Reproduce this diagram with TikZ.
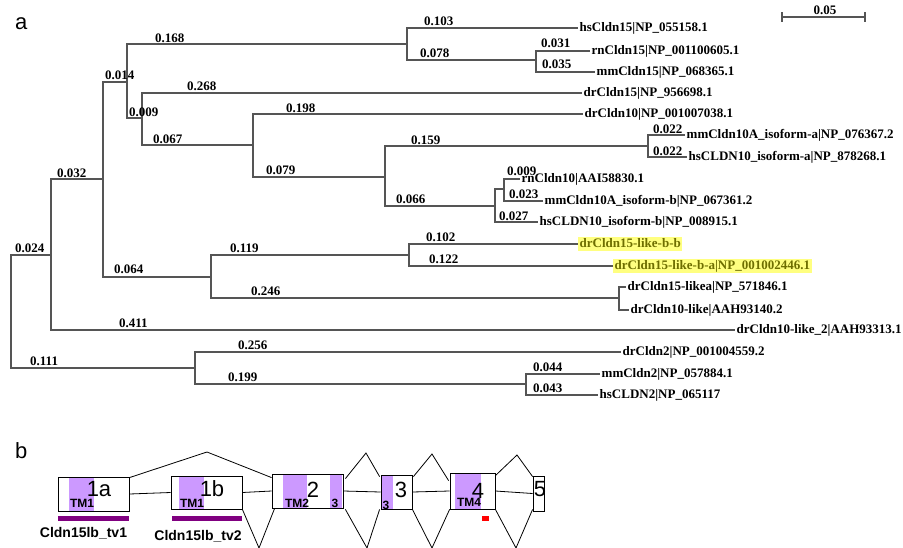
\documentclass[tikz,border=0pt]{standalone}
\usepackage{fontspec}
\setmainfont{Liberation Serif}
\setsansfont{Liberation Sans}
\usetikzlibrary{calc}
\definecolor{treeline}{HTML}{555555}
\definecolor{hl}{HTML}{FFFF80}
\definecolor{hltext}{HTML}{6E6E00}
\definecolor{tmfill}{HTML}{CC99FF}
\definecolor{barcol}{HTML}{800080}
\begin{document}
\begin{tikzpicture}[x=1pt,y=-1pt,
 edge/.style={draw=treeline,line width=1.1pt},
 leaf/.style={anchor=west,inner xsep=1.5pt,inner ysep=1pt,font=\fontsize{13}{15}\selectfont\bfseries,text height=9pt,text depth=3pt},
 hilite/.style={fill=hl,text=hltext},
 blen/.style={anchor=west,inner sep=0pt,font=\fontsize{13}{15}\selectfont\bfseries},
 exon/.style={draw,line width=0.8pt,inner sep=0pt},
 exnum/.style={font=\sffamily\fontsize{22}{24}\selectfont,inner sep=0pt},
 tmlab/.style={font=\sffamily\bfseries\fontsize{12}{14}\selectfont,inner sep=0pt},
 panel/.style={font=\sffamily\fontsize{22}{24}\selectfont,inner sep=0pt,anchor=base west},
 trlab/.style={font=\sffamily\bfseries\fontsize{14}{16}\selectfont,inner sep=0pt,anchor=base},
 intron/.style={draw,line width=0.8pt}]
\useasboundingbox (0,0) rectangle (903,547);
% ---------------- panel a ----------------
\node[panel] (pa) at (15,29) {a};
% internal nodes
\coordinate (R) at (11,311);
\coordinate (A) at (51,255);
\coordinate (B) at (103,179);
\coordinate (C) at (127,82);
\coordinate (E) at (407,44);
\coordinate (G) at (536,60);
\coordinate (F) at (142,118);
\coordinate (H) at (253,145);
\coordinate (I) at (385,177);
\coordinate (J) at (648,146);
\coordinate (K) at (495,206);
\coordinate (L) at (504,189);
\coordinate (D) at (211,277);
\coordinate (M) at (409,255);
\coordinate (N) at (619,298);
\coordinate (Q) at (195,368);
\coordinate (O) at (526,384);
% leaves
\node[leaf] (hs15) at (578,28) {hsCldn15|NP\_055158.1};
\node[leaf] (rn15) at (590,51) {rnCldn15|NP\_001100605.1};
\node[leaf] (mm15) at (595,72) {mmCldn15|NP\_068365.1};
\node[leaf] (dr15) at (582,93) {drCldn15|NP\_956698.1};
\node[leaf] (dr10) at (583,114) {drCldn10|NP\_001007038.1};
\node[leaf] (mm10a) at (685,135) {mmCldn10A\_isoform-a|NP\_076367.2};
\node[leaf] (hs10a) at (687,157) {hsCLDN10\_isoform-a|NP\_878268.1};
\node[leaf] (rn10) at (520,179) {rnCldn10|AAI58830.1};
\node[leaf] (mm10b) at (543,201) {mmCldn10A\_isoform-b|NP\_067361.2};
\node[leaf] (hs10b) at (538,222) {hsCLDN10\_isoform-b|NP\_008915.1};
\node[leaf,hilite] (lbb) at (578,244) {drCldn15-like-b-b};
\node[leaf,hilite] (lba) at (613,266) {drCldn15-like-b-a|NP\_001002446.1};
\node[leaf] (l15a) at (626,287) {drCldn15-likea|NP\_571846.1};
\node[leaf] (l10) at (629,310) {drCldn10-like|AAH93140.2};
\node[leaf] (l10b) at (735,330) {drCldn10-like\_2|AAH93313.1};
\node[leaf] (dr2) at (621,352) {drCldn2|NP\_001004559.2};
\node[leaf] (mm2) at (600,374) {mmCldn2|NP\_057884.1};
\node[leaf] (hs2) at (598,395) {hsCLDN2|NP\_065117};
% edges
\draw[edge] (R) |- (A);
\draw[edge] (R) |- (Q);
\draw[edge] (A) |- (B);
\draw[edge] (A) |- (l10b.west);
\draw[edge] (B) |- (C);
\draw[edge] (B) |- (D);
\draw[edge] (C) |- (E);
\draw[edge] (C) |- (F);
\draw[edge] (E) |- (hs15.west);
\draw[edge] (E) |- (G);
\draw[edge] (G) |- (rn15.west);
\draw[edge] (G) |- (mm15.west);
\draw[edge] (F) |- (dr15.west);
\draw[edge] (F) |- (H);
\draw[edge] (H) |- (dr10.west);
\draw[edge] (H) |- (I);
\draw[edge] (I) |- (J);
\draw[edge] (I) |- (K);
\draw[edge] (J) |- (mm10a.west);
\draw[edge] (J) |- (hs10a.west);
\draw[edge] (K) |- (L);
\draw[edge] (K) |- (hs10b.west);
\draw[edge] (L) |- (rn10.west);
\draw[edge] (L) |- (mm10b.west);
\draw[edge] (D) |- (M);
\draw[edge] (D) |- (N);
\draw[edge] (M) |- (lbb.west);
\draw[edge] (M) |- (lba.west);
\draw[edge] (N) |- (l15a.west);
\draw[edge] (N) |- (l10.west);
\draw[edge] (Q) |- (dr2.west);
\draw[edge] (Q) |- (O);
\draw[edge] (O) |- (mm2.west);
\draw[edge] (O) |- (hs2.west);
% branch lengths
\node[blen] (b01) at (155,38) {0.168};
\node[blen] (b02) at (105,75) {0.014};
\node[blen] (b03) at (187,86) {0.268};
\node[blen] (b04) at (129,112) {0.009};
\node[blen] (b05) at (153,139) {0.067};
\node[blen] (b06) at (286,108) {0.198};
\node[blen] (b07) at (266,170) {0.079};
\node[blen] (b08) at (411,140) {0.159};
\node[blen] (b09) at (396,199) {0.066};
\node[blen] (b10) at (57,173) {0.032};
\node[blen] (b11) at (15,248) {0.024};
\node[blen] (b12) at (114,269) {0.064};
\node[blen] (b13) at (230,248) {0.119};
\node[blen] (b14) at (251,291) {0.246};
\node[blen] (b15) at (119,323) {0.411};
\node[blen] (b16) at (30,361) {0.111};
\node[blen] (b17) at (238,345) {0.256};
\node[blen] (b18) at (228,377) {0.199};
\node[blen] (b19) at (424,21) {0.103};
\node[blen] (b20) at (420,53) {0.078};
\node[blen] (b21) at (541,43) {0.031};
\node[blen] (b22) at (542,64) {0.035};
\node[blen] (b23) at (653,129) {0.022};
\node[blen] (b24) at (653,151) {0.022};
\node[blen] (b25) at (507,171) {0.009};
\node[blen] (b26) at (509,194) {0.023};
\node[blen] (b27) at (499,216) {0.027};
\node[blen] (b28) at (426,237) {0.102};
\node[blen] (b29) at (429,259) {0.122};
\node[blen] (b30) at (533,367) {0.044};
\node[blen] (b31) at (533,388) {0.043};
% scale bar
\coordinate (sb1) at (782,17);
\coordinate (sb2) at (865,17);
\draw[edge] (sb1) -- (sb2);
\draw[edge] ($(sb1)+(0,-5)$) -- ($(sb1)+(0,5)$);
\draw[edge] ($(sb2)+(0,-5)$) -- ($(sb2)+(0,5)$);
\node[blen,anchor=center] (sbl) at (825,10) {0.05};
% ---------------- panel b ----------------
\node[panel] (pb) at (15,458) {b};
% TM regions
\fill[tmfill] (69,477) rectangle (94,511);
\fill[tmfill] (179,476) rectangle (204,509);
\fill[tmfill] (283,474) rectangle (307,508);
\fill[tmfill] (330,474) rectangle (342,508);
\fill[tmfill] (381,475) rectangle (393,509);
\fill[tmfill] (455,473) rectangle (481,509);
% exons
\node[exon,minimum width=71pt,minimum height=34pt] (e1a) at (93.5,494) {};
\node[exon,minimum width=71pt,minimum height=33pt] (e1b) at (206.5,492.5) {};
\node[exon,minimum width=71pt,minimum height=34pt] (e2) at (307.5,491) {};
\node[exon,minimum width=31pt,minimum height=34pt] (e3) at (396.5,492) {};
\node[exon,minimum width=45pt,minimum height=36pt] (e4) at (472.5,491) {};
\node[exon,minimum width=11pt,minimum height=35pt] (e5) at (538.5,493.5) {};
% introns
\draw[intron] (e1a.east) -- (e1b.west);
\draw[intron] (e1b.east) -- (e2.west);
\draw[intron] (e2.east) -- (e3.west);
\draw[intron] (e3.east) -- (e4.west);
\draw[intron] (e4.east) -- (e5.west);
\coordinate (pk1) at (207,452);
\coordinate (pk2) at (366,453);
\coordinate (pk3) at (432,454);
\coordinate (pk4) at (517,455);
\coordinate (vl1) at (259,548);
\coordinate (vl2) at (367,548);
\coordinate (vl3) at (432,548);
\coordinate (vl4) at (516,548);
\draw[intron] ($(e1a.north east)+(0,1)$) -- (pk1) -- ($(e2.north west)+(0,4)$);
\draw[intron] (e1b.south east) -- (vl1) -- ($(e2.south west)+(3,0)$);
\draw[intron] ($(e2.north east)+(2,5)$) -- (pk2) -- ($(e3.north west)+(-1,2)$);
\draw[intron] ($(e2.south east)+(2,1)$) -- (vl2) -- ($(e3.south west)+(-1,0)$);
\draw[intron] ($(e3.north east)+(1,2)$) -- (pk3) -- ($(e4.north west)+(-1,8)$);
\draw[intron] (e3.south east) -- (vl3) -- (e4.south west);
\draw[intron] ($(e4.north east)+(0,3)$) -- (pk4) -- ($(e5.north west)+(0,1)$);
\draw[intron] (e4.south east) -- (vl4) -- ($(e5.south west)+(0,-2)$);
% exon labels
\node[exnum] (n1a) at (99,489) {1a};
\node[exnum] (n1b) at (212,489) {1b};
\node[exnum] (n2) at (313,490) {2};
\node[exnum] (n3) at (401,490) {3};
\node[exnum] (n4) at (478,491) {4};
\node[exnum] (n5) at (540,489) {5};
\node[tmlab] (t1) at (82,503) {TM1};
\node[tmlab] (t2) at (192,503) {TM1};
\node[tmlab] (t3) at (297,503) {TM2};
\node[tmlab] (t4) at (335,503) {3};
\node[tmlab] (t5) at (386,505) {3};
\node[tmlab] (t6) at (469,502) {TM4};
% transcript bars
\fill[barcol] (58,516) rectangle (129,521);
\fill[barcol] (172,516) rectangle (242,521);
\node[trlab] (tv1) at (83.5,537) {Cldn15lb\_tv1};
\node[trlab] (tv2) at (198,540) {Cldn15lb\_tv2};
\fill[red] (482,516) rectangle (489,521);
\end{tikzpicture}
\end{document}
